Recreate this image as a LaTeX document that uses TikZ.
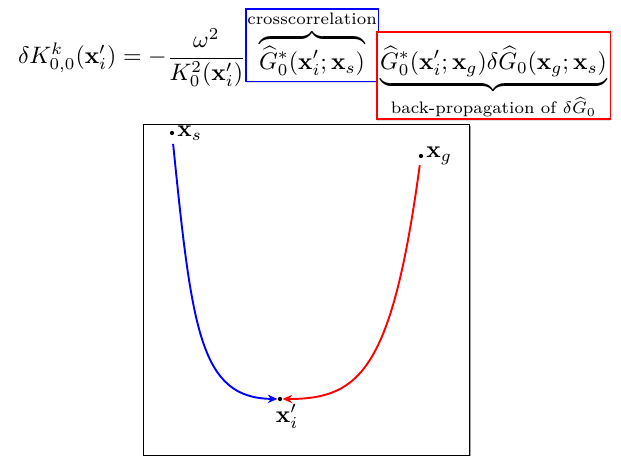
\documentclass[tikz,border=0pt]{standalone}
\usepackage{amsmath,amssymb}
\usetikzlibrary{positioning, arrows.meta, shadows}

\begin{document}
\begin{tikzpicture}[x=0.42pt, y=-0.42pt,
        eqpart/.style={inner sep=0pt, outer sep=0pt},
        xcorrbox/.style={rectangle, draw=blue, line width=0.6pt, fill=white, inner xsep=0.6pt, inner ysep=0.6pt, text depth=4.5pt, outer sep=0pt, drop shadow={shadow xshift=0pt, shadow yshift=-0.7pt, fill=gray!25, opacity=1}},
        bpropbox/.style={rectangle, draw=red, line width=0.6pt, fill=white, inner xsep=1.4pt, inner ysep=1.5pt, text height=14.3pt, text depth=19.3pt, outer sep=0pt, drop shadow={shadow xshift=0pt, shadow yshift=-0.7pt, fill=gray!25, opacity=1}},
        framebox/.style={draw=black, fill=white, drop shadow={shadow xshift=0.7pt, shadow yshift=-0.7pt, fill=gray!70, opacity=1}},
        ray/.style={thick, -{Stealth[length=4pt, width=3.5pt]}},
        pt/.style={circle, fill=black, inner sep=0pt, minimum size=1.8pt}
    ]
        \useasboundingbox (0,0) rectangle (621,456);

        % Equation
        \node[eqpart, anchor=base west] (lhs) at (18,64) {$\displaystyle \delta K^k_{0,0}(\mathbf{x}'_i) = -\frac{\omega^2}{K^2_0(\mathbf{x}'_i)}$};
        \node[xcorrbox, base right=0pt of lhs, yshift=-2.3pt] (xcorr) {$\displaystyle \overbrace{\widehat{G}^*_0(\mathbf{x}'_i;\mathbf{x}_s)}^{\text{crosscorrelation}}$};
        \node[bpropbox, base right=-0.6pt of xcorr] (bprop) {$\displaystyle \underbrace{\widehat{G}^*_0(\mathbf{x}'_i;\mathbf{x}_g)\delta\widehat{G}_0(\mathbf{x}_g;\mathbf{x}_s)}_{\text{back-propagation of }\delta\widehat{G}_0}$};

        % Model
        \draw[framebox] (143,124) rectangle (469,455);

        % Points
        \node[pt, label={[inner sep=1pt]right:$\mathbf{x}_s$}] (xs) at (172,133) {};
        \node[pt, label={[inner sep=1pt]right:$\mathbf{x}_g$}] (xg) at (421,156) {};
        \node[pt, label={[inner sep=1pt, xshift=3pt]below:$\mathbf{x}'_i$}] (xi) at (280,399) {};

        % Rays
        \draw[ray, blue, shorten <=3.5pt] (xs) .. controls (192,330) and (200,398) .. (xi);
        \draw[ray, red, shorten <=2.8pt] (xg) .. controls (392,370) and (360,399) .. (xi);
    \end{tikzpicture}
\end{document}
